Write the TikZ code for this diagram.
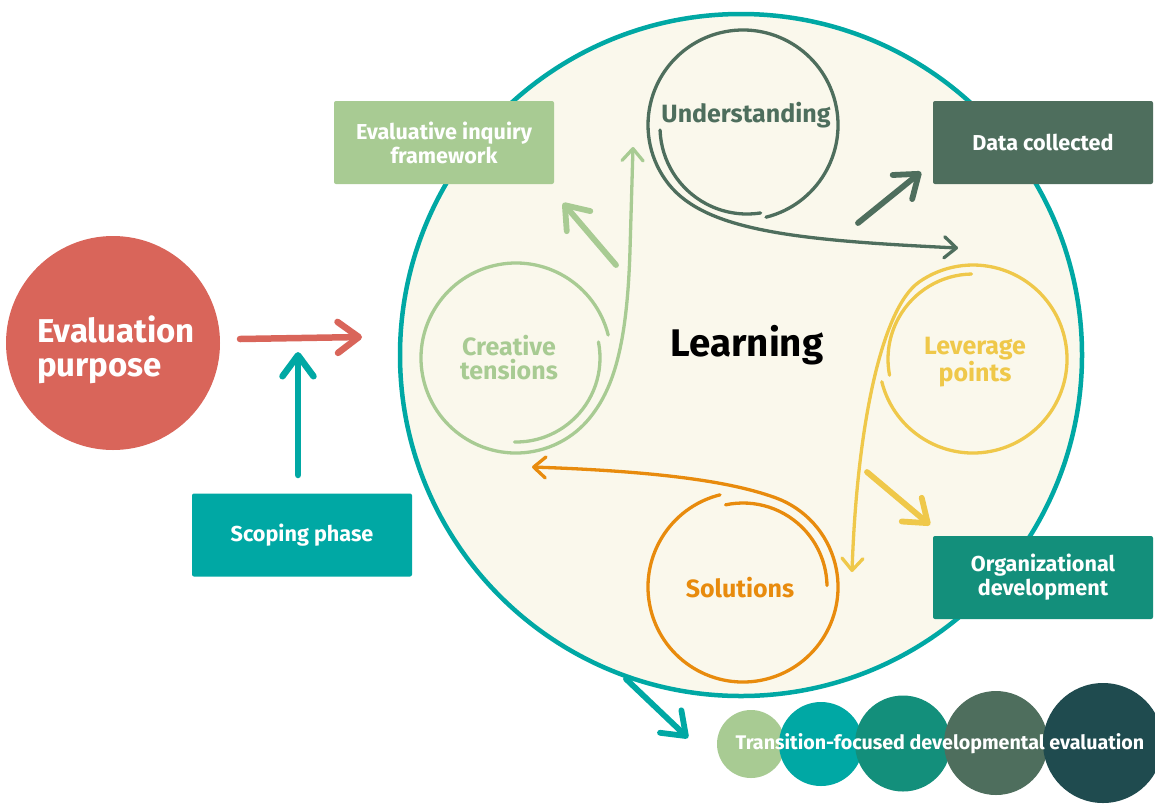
\documentclass[tikz,border=0pt]{standalone}
\usepackage{fontspec}
\setmainfont{Fira Sans}
\usetikzlibrary{arrows.meta,calc}
\definecolor{cteal}{HTML}{00A8A4}
\definecolor{cred}{HTML}{D9655A}
\definecolor{ccream}{HTML}{FAF8EC}
\definecolor{clight}{HTML}{A8CB93}
\definecolor{cdark}{HTML}{4E6E5D}
\definecolor{cmid}{HTML}{138F7B}
\definecolor{cdeep}{HTML}{1F4B4F}
\definecolor{cyellow}{HTML}{EFC84A}
\definecolor{corange}{HTML}{E88B0D}
\begin{document}
\begin{tikzpicture}[x=1pt,y=-1pt,
 box/.style={rectangle,rounded corners=2pt,minimum width=220pt,minimum height=83pt,inner sep=0pt,text=white,align=center,font=\fontsize{21.6}{24}\selectfont\bfseries},
 bigarrow/.style={line width=5.8pt,line cap=round,-{Straight Barb[length=21pt,width=31pt,round]}},
 spiral/.style={line width=3.3pt,line cap=round},
 spiralarrow/.style={spiral,-{Straight Barb[length=12pt,width=21pt,round]}},
 clabel/.style={font=\fontsize{25}{24}\selectfont\bfseries,align=center},
 dot/.style={circle,inner sep=0pt,fill=#1}
]
\useasboundingbox (0,0) rectangle (1155,804);
\fill[white] (0,0) rectangle (1155,804);

% big learning circle
\node[circle,draw=cteal,line width=4.5pt,fill=ccream,minimum size=682pt,inner sep=0pt] (learn) at (741,355) {};
\node[font=\fontsize{38.5}{40}\selectfont\bfseries] (ltxt) at (747,345) {Learning};

% evaluation purpose
\node[dot=cred,minimum size=214pt] (purpose) at (113,343) {};
\node[text=white,align=left,font=\fontsize{33}{34}\selectfont\bfseries] (ptxt) at (116,350) {Evaluation\\purpose};

% scoping
\node[box,fill=cteal] (scope) at (302,535) {Scoping phase};
\coordinate (ra) at (240,339);
\coordinate (rb) at (362,337);
\draw[bigarrow,cred,line width=6.5pt] (ra) -- (rb);
\coordinate (ta) at (298,475);
\coordinate (tb) at (298,352);
\draw[bigarrow,cteal,line width=6.5pt] (ta) -- (tb);

% Understanding
\coordinate (uc) at (743,125);
\coordinate (uci) at (747,127);
\node[clabel,text=cdark] (utxt) at (746,115) {Understanding};
\draw[spiral,cdark] ($(uci)+(178:87)$) arc[start angle=178,delta angle=-97,radius=87];
\coordinate (u1) at ($(uc)+(76:95)$);
\coordinate (u2) at (958,248);
\draw[spiralarrow,cdark] (u1) arc[start angle=76,delta angle=-291,radius=95] .. controls (700,230) and (790,240) .. (u2);
\coordinate (da) at (858,223);
\coordinate (db) at (921,172);
\draw[bigarrow,cdark] (da) -- (db);

% Creative tensions
\coordinate (cc) at (516,358);
\node[clabel,text=clight] (ctxt) at (509,358) {Creative\\tensions};
\draw[spiral,clight] ($(cc)+(-11:84)$) arc[start angle=-11,delta angle=102,radius=84];
\coordinate (c1) at ($(cc)+(-14:95)$);
\coordinate (c2) at (633,147);
\draw[spiralarrow,clight] (c1) arc[start angle=-14,delta angle=-306,radius=95] .. controls (612,391) and (627,350) .. (630,250) -- (c2);
\coordinate (fa) at (616,265);
\coordinate (fb) at (563,203);
\draw[bigarrow,clight] (fa) -- (fb);

% Leverage points
\coordinate (lc) at (973,359);
\node[clabel,text=cyellow] (lvtxt) at (975,362) {Leverage\\points};
\draw[spiral,cyellow] ($(lc)+(-91:85)$) arc[start angle=-91,delta angle=-100,radius=85];
\coordinate (l1) at ($(lc)+(166:94)$);
\coordinate (l2) at (852,572);
\draw[spiralarrow,cyellow] (l1) arc[start angle=166,delta angle=-291,radius=94] .. controls (882,308) and (857,425) .. (l2);
\coordinate (oa) at (867,472);
\coordinate (ob) at (930,525);
\draw[bigarrow,cyellow] (oa) -- (ob);

% Solutions
\coordinate (sc) at (743,587);
\node[clabel,text=corange] (stxt) at (740,588) {Solutions};
\draw[spiral,corange] ($(sc)+(-102:84)$) arc[start angle=-102,delta angle=101,radius=84];
\coordinate (s1) at ($(sc)+(-104:95)$);
\coordinate (s2) at (532,467);
\draw[spiralarrow,corange] (s1) arc[start angle=-104,delta angle=-326,radius=95] .. controls (740,485) and (680,472) .. (s2);

% boxes
\node[box,fill=clight] (frame) at (444,142.5) {Evaluative inquiry\\framework};
\node[box,fill=cdark] (data) at (1043,142.5) {Data collected};
\node[box,fill=cmid] (org) at (1043,577.5) {Organizational\\development};

% bottom
\coordinate (ba) at (626,679);
\coordinate (bb) at (688,738);
\draw[bigarrow,cteal] (ba) -- (bb);
\node[dot=clight,minimum size=68pt] (b1) at (751,744) {};
\node[dot=cteal,minimum size=84pt] (b2) at (821,744) {};
\node[dot=cmid,minimum size=96pt] (b3) at (903,743.5) {};
\node[dot=cdark,minimum size=104pt] (b4) at (996,743) {};
\node[dot=cdeep,minimum size=120pt] (b5) at (1103,743) {};
\node[text=white,font=\fontsize{19.7}{20}\selectfont\bfseries] (ttxt) at (940,744) {Transition-focused developmental evaluation};
\end{tikzpicture}
\end{document}
